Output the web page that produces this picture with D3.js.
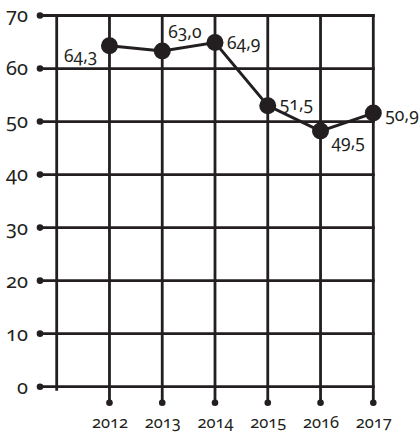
<!DOCTYPE html>
<html>
<head>
<meta charset="utf-8">
<script src="https://cdn.jsdelivr.net/npm/d3@7/dist/d3.min.js"></script>
<style>
  html, body { margin: 0; padding: 0; background: #fff; }
  svg text { font-family: "Noto Sans", "Open Sans", sans-serif; fill: #231f20; font-feature-settings: "onum" 1; }
</style>
</head>
<body>
<svg id="chart" width="420" height="432"></svg>
<script>
const years = [2012, 2013, 2014, 2015, 2016, 2017];
const values = [64.3, 63.3, 64.9, 53.0, 48.2, 51.6];
const valueLabels = ["64,3", "63,0", "64,9", "51,5", "49,5", "50,9"];
const yTicks = [0, 10, 20, 30, 40, 50, 60, 70];
const yTickLabels = ["0", "10", "20", "30", "40", "50", "60", "70"];
// label offsets relative to point: [dx, dy, anchor]
const labelPos = [[-12, 10, "end"], [6, -19, "start"], [12, 0, "start"], [12, -2, "start"], [11, 11, "start"], [12, 2, "start"]];

const ink = "#231f20";
const svg = d3.select("#chart");
const x = d3.scaleLinear().domain([2011, 2017]).range([56.7, 373.3]);
const y = d3.scaleLinear().domain([0, 70]).range([386.7, 15.5]);

// horizontal grid lines with dots
const g = svg.append("g");
g.selectAll("line.h").data(yTicks).join("line")
  .attr("x1", 40).attr("x2", x(2017) + 1.5)
  .attr("y1", d => y(d)).attr("y2", d => y(d))
  .attr("stroke", ink).attr("stroke-width", 2.8);
g.selectAll("circle.h").data(yTicks).join("circle")
  .attr("cx", 40).attr("cy", d => y(d)).attr("r", 3.3).attr("fill", ink);

// left vertical line
g.append("line").attr("x1", x(2011)).attr("x2", x(2011))
  .attr("y1", y(70) - 1.4).attr("y2", y(0) + 4)
  .attr("stroke", ink).attr("stroke-width", 2.8);

// year vertical lines with dots
g.selectAll("line.v").data(years).join("line")
  .attr("x1", d => x(d)).attr("x2", d => x(d))
  .attr("y1", y(70) - 1.4).attr("y2", 402.7)
  .attr("stroke", ink).attr("stroke-width", 2.8);
g.selectAll("circle.v").data(years).join("circle")
  .attr("cx", d => x(d)).attr("cy", 402.7).attr("r", 3.3).attr("fill", ink);

// y axis labels
const yAxis = d3.axisLeft(y).tickValues(yTicks).tickSize(0).tickPadding(0)
  .tickFormat((d, i) => yTickLabels[i]);
const ya = svg.append("g").attr("transform", "translate(28,0)").call(yAxis)
  .attr("font-size", 20).attr("font-family", null);
ya.select(".domain").remove();
ya.selectAll("text").attr("fill", ink);

// x axis labels
const xAxis = d3.axisBottom(x).tickValues(years).tickSize(0).tickPadding(0).tickFormat(d => String(d));
const xa = svg.append("g").attr("transform", "translate(0,416)").call(xAxis)
  .attr("font-size", 16.5).attr("font-family", null);
xa.select(".domain").remove();
xa.selectAll("text").attr("fill", ink);

// data line
const pts = years.map((yr, i) => [x(yr), y(values[i])]);
svg.append("path").datum(pts)
  .attr("d", d3.line())
  .attr("fill", "none").attr("stroke", ink).attr("stroke-width", 3);
svg.selectAll("circle.p").data(pts).join("circle")
  .attr("cx", d => d[0]).attr("cy", d => d[1]).attr("r", 8.5).attr("fill", ink);

// value labels
svg.selectAll("text.lbl").data(pts).join("text")
  .attr("x", (d, i) => d[0] + labelPos[i][0])
  .attr("y", (d, i) => d[1] + labelPos[i][1])
  .attr("dy", "0.35em")
  .attr("font-size", 17.5)
  .attr("text-anchor", (d, i) => labelPos[i][2])
  .text((d, i) => valueLabels[i]);
</script>
</body>
</html>
